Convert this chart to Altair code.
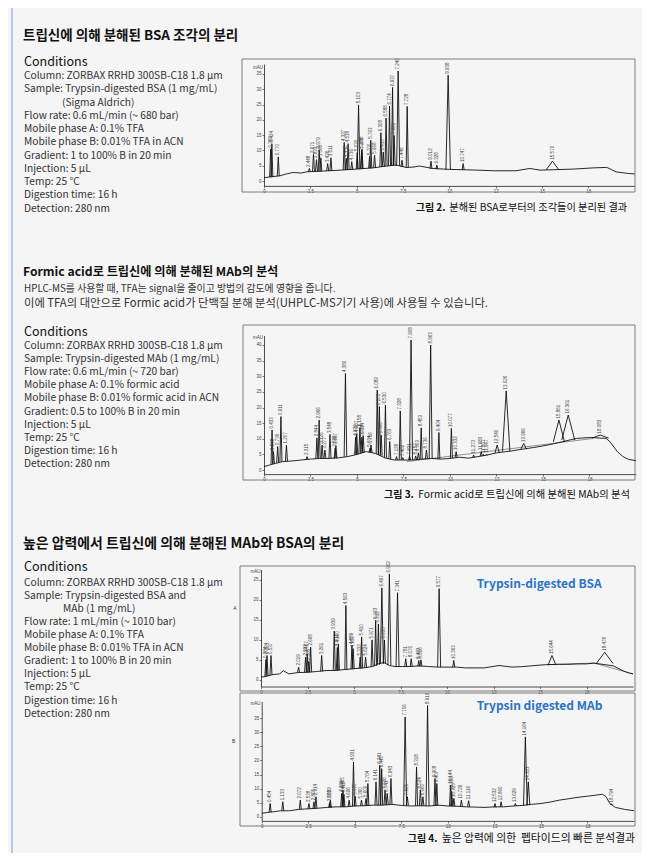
import altair as alt
import pandas as pd

FONT = "Noto Sans CJK KR"
W, H = 634, 845

# ---------------- text content ----------------
s1_title = "트립신에 의해 분해된 BSA 조각의 분리"
s1_cond = ["Column: ZORBAX RRHD 300SB-C18 1.8 μm",
           "Sample: Trypsin-digested BSA (1 mg/mL)",
           "(Sigma Aldrich)",
           "Flow rate: 0.6 mL/min (~ 680 bar)",
           "Mobile phase A: 0.1% TFA",
           "Mobile phase B: 0.01% TFA in ACN",
           "Gradient: 1 to 100% B in 20 min",
           "Injection: 5 μL",
           "Temp: 25 °C",
           "Digestion time: 16 h",
           "Detection: 280 nm"]
s1_indented = [2]
s2_title = "Formic acid로 트립신에 의해 분해된 MAb의 분석"
s2_body = ["HPLC-MS를 사용할 때, TFA는 signal을 줄이고 방법의 감도에 영향을 줍니다.",
           "이에 TFA의 대안으로 Formic acid가 단백질 분해 분석(UHPLC-MS기기 사용)에 사용될 수 있습니다."]
s2_cond = ["Column: ZORBAX RRHD 300SB-C18 1.8 μm",
           "Sample: Trypsin-digested MAb (1 mg/mL)",
           "Flow rate: 0.6 mL/min (~ 720 bar)",
           "Mobile phase A: 0.1% formic acid",
           "Mobile phase B: 0.01% formic acid in ACN",
           "Gradient: 0.5 to 100% B in 20 min",
           "Injection: 5 μL",
           "Temp: 25 °C",
           "Digestion time: 16 h",
           "Detection: 280 nm"]
s2_indented = []
s3_title = "높은 압력에서 트립신에 의해 분해된 MAb와 BSA의 분리"
s3_cond = ["Column: ZORBAX RRHD 300SB-C18 1.8 μm",
           "Sample: Trypsin-digested BSA and",
           "MAb (1 mg/mL)",
           "Flow rate: 1 mL/min (~ 1010 bar)",
           "Mobile phase A: 0.1% TFA",
           "Mobile phase B: 0.01% TFA in ACN",
           "Gradient: 1 to 100% B in 20 min",
           "Injection: 5 μL",
           "Temp: 25 °C",
           "Digestion time: 16 h",
           "Detection: 280 nm"]
s3_indented = [2]
cap2 = ["그림 2.", "분해된 BSA로부터의 조각들이 분리된 결과"]
cap3 = ["그림 3.", "Formic acid로 트립신에 의해 분해된 MAb의 분석"]
cap4 = ["그림 4.", "높은 압력에 의한\u00a0 펩타이드의 빠른 분석결과"]
legend_a = "Trypsin-digested BSA"
legend_b = "Trypsin digested MAb"

x_ticks = [0, 2.5, 5, 7.5, 10, 12.5, 15, 17.5]

# ---------------- Fig 2 ----------------
f2_bl_t = [0, 0.86, 1.2, 1.58, 2.0, 2.3, 3.2, 4.1, 5.0, 5.9, 6.6, 7.15, 7.7, 8.1, 8.4, 9.1, 10.0,
           11.3, 12.4, 13.6, 14.35, 14.9, 16.7, 17.8, 18.5, 19.0, 19.6, 20.0]
f2_bl_y = [1.1, 1.7, 2.3, 2.8, 2.6, 3.0, 3.25, 3.55, 3.9, 4.3, 4.9, 5.2, 4.4, 4.6, 4.9, 4.1, 3.8,
           3.6, 3.35, 3.35, 4.1, 3.55, 3.9, 4.3, 4.45, 3.0, 2.5, 2.3]
f2_pk_t = [0.360, 0.424, 0.770, 2.448, 2.671, 2.833, 2.979, 3.068, 3.436, 3.611, 4.327, 4.440,
           4.538, 4.736, 5.030, 5.103, 5.268, 5.288, 5.700, 5.763, 5.968, 6.308, 6.435, 6.588,
           6.774, 6.937, 7.021, 7.240, 7.448, 7.728, 9.012, 9.328, 9.938, 10.747, 15.570]
f2_pk_h = [10.5, 12.2, 7.9, 4.1, 8.7, 7.0, 10.1, 7.6, 5.7, 7.6, 12.6, 7.4, 12.2, 6.3, 9.3, 24.9,
           10.0, 10.4, 8.0, 13.3, 8.4, 15.8, 9.5, 20.6, 24.5, 30.6, 14.9, 36.0, 6.8, 24.4, 6.5,
           5.2, 34.6, 5.7, 6.5]
f2_pk_b = [1.3, 1.3, 1.6, 3.0, 3.1, 3.1, 3.1, 3.2, 3.3, 3.3, 3.6, 3.6, 3.6, 3.7, 3.9, 3.9, 4.0,
           4.0, 4.2, 4.2, 4.3, 4.6, 4.7, 4.8, 5.0, 5.1, 5.1, 5.0, 4.6, 4.4, 4.0, 3.9, 3.7, 3.6, 3.6]
f2_wide = {9.938: 0.12, 15.570: 0.35, 7.240: 0.08, 5.103: 0.07}

# ---------------- Fig 3 ----------------
f3_bl_t = [0, 0.3, 0.6, 1.0, 1.5, 2.0, 2.5, 3.0, 3.5, 4.0, 4.5, 5.0, 5.5, 6.0, 6.5, 7.0, 7.5, 8.0,
           8.5, 9.0, 9.5, 10.0, 10.5, 11.0, 11.5, 12.0, 12.5, 13.3, 13.6, 14.5, 15.0, 15.5, 16.8,
           17.2, 17.6, 18.4, 18.6, 19.0, 19.3, 19.6, 20.0]
f3_bl_y = [1.1, 1.6, 2.1, 2.7, 2.9, 3.2, 3.5, 3.7, 3.7, 3.9, 4.3, 5.0, 5.9, 5.3, 3.9, 3.2, 3.2, 3.2,
           3.5, 3.7, 3.5, 3.7, 4.1, 3.8, 4.3, 4.8, 5.5, 6.1, 6.4, 7.2, 7.7, 8.3, 10.1, 10.3, 10.4,
           10.1, 9.1, 5.9, 4.3, 3.4, 3.0]
f3_pk_t = [0.433, 0.508, 0.736, 0.911, 1.207, 2.315, 2.844, 2.966, 3.126, 3.277, 3.548, 3.829,
           3.867, 4.380, 4.927, 4.987, 5.158, 5.264, 5.334, 5.704, 5.756, 6.089, 6.205, 6.300,
           6.530, 6.763, 7.126, 7.328, 7.462, 7.831, 7.908, 8.157, 8.303, 8.453, 8.736, 8.963,
           9.404, 10.077, 10.332, 11.273, 11.683, 11.807, 11.967, 12.540, 13.026, 13.966, 15.861,
           16.361, 18.083]
f3_pk_h = [12.8, 5.9, 7.5, 17.1, 8.0, 4.3, 10.3, 16.0, 8.0, 6.4, 11.4, 7.0, 7.8, 30.9, 10.5, 11.7,
           13.5, 10.5, 11.0, 7.0, 8.0, 25.6, 20.3, 11.2, 20.8, 9.1, 4.3, 18.9, 4.0, 4.5, 41.6, 4.5,
           5.5, 13.5, 6.4, 40.0, 12.0, 13.3, 5.9, 4.8, 5.9, 5.0, 5.0, 8.0, 25.3, 8.5, 16.0, 17.6, 11.2]
f3_pk_b = [1.9, 2.0, 2.3, 2.6, 2.8, 3.3, 3.6, 3.6, 3.7, 3.7, 3.7, 3.8, 3.8, 4.2, 4.9, 5.0, 5.3,
           5.5, 5.6, 5.7, 5.6, 5.1, 4.8, 4.5, 3.9, 3.5, 3.2, 3.2, 3.2, 3.2, 3.2, 3.3, 3.4, 3.5,
           3.6, 3.7, 3.5, 3.8, 4.0, 4.0, 4.4, 4.5, 4.7, 5.4, 5.9, 6.7, 9.0, 9.6, 10.2]
f3_wide = {12.540: 0.12, 13.026: 0.2, 13.966: 0.15, 15.861: 0.3, 16.361: 0.35, 18.083: 0.45,
           7.908: 0.08, 8.963: 0.08, 4.380: 0.07}
f3_int_t = [7.67, 17.7]
f3_int_y = [2.7, 10.1]

# ---------------- Fig 4A ----------------
f4a_bl_t = [0, 0.3, 0.6, 1.0, 1.2, 1.5, 2.0, 2.5, 3.0, 3.5, 4.0, 4.5, 5.0, 5.5, 6.0, 6.3, 6.6, 6.9,
            7.2, 7.6, 8.0, 8.5, 9.0, 9.5, 10.0, 10.5, 11.0, 11.5, 12.0, 12.8, 13.5, 14.0, 14.5,
            15.0, 15.3, 16.0, 16.5, 17.0, 17.5, 17.9, 18.95, 19.2, 19.5, 19.8, 20.0]
f4a_bl_y = [0.6, 0.8, 1.2, 1.4, 2.2, 1.4, 1.75, 1.8, 2.0, 2.25, 2.25, 2.5, 2.7, 2.9, 3.25, 3.9,
            4.25, 3.5, 3.25, 3.25, 3.25, 3.4, 3.25, 3.1, 3.1, 3.1, 2.9, 2.9, 2.9, 3.5, 3.1, 3.2,
            3.4, 3.6, 3.7, 3.8, 3.8, 3.9, 3.9, 4.1, 3.4, 2.8, 2.1, 1.6, 1.4]
f4a_pk_t = [0.264, 0.324, 0.537, 2.019, 2.397, 2.487, 2.565, 2.668, 3.261, 3.939, 4.102, 4.160,
            4.563, 4.889, 4.957, 5.333, 5.410, 5.624, 5.971, 6.163, 6.312, 6.497, 6.635, 6.902,
            7.341, 7.781, 8.076, 8.483, 8.600, 9.577, 10.363, 15.644, 18.478]
f4a_pk_h = [5.0, 6.0, 6.0, 3.1, 5.6, 6.4, 4.5, 8.1, 6.0, 12.1, 8.0, 8.9, 18.5, 8.5, 7.7, 5.6, 10.6,
            5.6, 9.9, 14.75, 13.9, 22.9, 9.9, 26.4, 21.7, 5.2, 5.2, 4.75, 4.9, 22.7, 4.75, 6.0, 6.8]
f4a_pk_b = [0.8, 0.9, 1.1, 1.75, 1.8, 1.8, 1.8, 1.85, 2.0, 2.25, 2.3, 2.3, 2.4, 2.6, 2.6, 2.8, 2.8,
            2.9, 3.2, 3.4, 3.7, 3.9, 4.0, 3.6, 3.25, 3.25, 3.25, 3.3, 3.3, 3.1, 3.1, 3.7, 4.0]
f4a_wide = {15.644: 0.2, 18.478: 0.45, 9.577: 0.08, 6.902: 0.08, 6.497: 0.08, 7.341: 0.08}
f4a_int_t = [15.4, 17.9, 20.0]
f4a_int_y = [3.7, 4.1, 1.4]

# ---------------- Fig 4B ----------------
f4b_bl_t = [0, 0.3, 0.7, 1.0, 1.5, 2.0, 2.5, 3.0, 3.5, 4.0, 4.5, 5.0, 5.5, 6.0, 6.5, 7.0, 7.5, 8.0,
            8.5, 9.0, 9.5, 10.0, 10.5, 11.0, 11.5, 12.0, 12.5, 13.0, 13.5, 14.0, 14.5, 15.0, 15.5,
            16.0, 16.5, 17.0, 17.5, 18.0, 18.3, 18.5, 18.7, 19.0, 19.5, 20.0]
f4b_bl_y = [1.2, 1.5, 1.8, 2.1, 2.1, 2.6, 2.8, 3.0, 3.3, 3.5, 3.5, 3.8, 3.9, 4.1, 4.1, 4.4, 4.0, 3.8,
            3.9, 3.8, 4.1, 3.8, 3.7, 3.5, 3.4, 3.3, 3.5, 3.5, 3.8, 4.0, 4.4, 4.7, 5.2, 5.9, 6.4,
            6.9, 7.3, 7.7, 8.0, 7.1, 4.7, 3.3, 2.6, 2.1]
f4b_pk_t = [0.454, 1.133, 2.072, 2.538, 2.805, 2.914, 3.650, 3.689, 4.299, 4.365, 4.418, 4.696,
            4.931, 5.020, 5.360, 5.600, 5.704, 6.141, 6.341, 6.445, 6.626, 6.743, 6.943, 7.706,
            7.825, 8.318, 8.524, 8.660, 8.910, 9.308, 9.407, 10.144, 10.208, 10.325, 10.729,
            11.116, 12.532, 12.860, 13.629, 14.164, 14.323, 18.794]
f4b_pk_h = [4.7, 5.3, 5.9, 4.7, 5.3, 7.1, 5.0, 5.9, 8.3, 9.5, 8.0, 5.9, 19.5, 7.3, 5.9, 6.5, 11.8,
            12.4, 18.3, 17.1, 9.5, 8.3, 13.6, 35.5, 7.1, 17.7, 9.5, 7.1, 39.6, 13.6, 11.8, 11.2,
            9.0, 6.5, 5.9, 5.7, 4.7, 5.3, 4.7, 28.4, 12.4, 4.5]
f4b_pk_b = [1.6, 2.1, 2.6, 2.8, 2.9, 3.0, 3.3, 3.3, 3.5, 3.5, 3.5, 3.6, 3.7, 3.8, 3.8, 3.9, 3.9,
            4.1, 4.1, 4.1, 4.2, 4.3, 4.4, 4.0, 4.0, 3.9, 3.9, 3.9, 3.8, 3.8, 3.8, 3.8, 3.8, 3.7,
            3.6, 3.5, 3.3, 3.5, 3.8, 4.0, 4.1, 4.3]
f4b_wide = {14.164: 0.1, 14.323: 0.08, 7.706: 0.08, 8.910: 0.08}

# ---------------- helpers ----------------
one = pd.DataFrame({"k": [0]})
INK = "#111111"
BODY = "#333333"


def txt(text, x, y, size, weight="normal", color=BODY, align="left",
        baseline="alphabetic", font=FONT):
    return alt.Chart(one).mark_text(text=text, fontSize=size, fontWeight=weight, color=color,
                                    align=align, baseline=baseline, font=font).encode(
        x=alt.value(x), y=alt.value(y))


def block(lines, x, y0, lh, size, indented, indent):
    return [txt(s, x + (indent if i in indented else 0), y0 + i * lh, size)
            for i, s in enumerate(lines)]


def frame(x0, y0, x1, y1):
    return alt.Chart(one).mark_rect(filled=False, stroke="#7d7d7d", strokeWidth=1).encode(
        x=alt.value(x0), x2=alt.value(x1), y=alt.value(y0), y2=alt.value(y1))


def chromatogram(bl_t, bl_y, pk_t, pk_h, pk_b, wide, xr, yd, yr, yticks,
                 int_t=None, int_y=None):
    base = pd.DataFrame({"t": bl_t, "v": bl_y})
    rows = []
    for i, (t, h, b) in enumerate(zip(pk_t, pk_h, pk_b)):
        w = wide.get(t, 0.055)
        rows += [{"pk": i, "o": 0, "t": t - w, "v": b},
                 {"pk": i, "o": 1, "t": t, "v": h},
                 {"pk": i, "o": 2, "t": t + w, "v": b}]
    tents = pd.DataFrame(rows)
    labels = pd.DataFrame({"t": pk_t, "v": pk_h, "lbl": [f"{t:.3f}" for t in pk_t]})
    xs = alt.Scale(domain=[0, 20], range=xr, nice=False, zero=False)
    ys = alt.Scale(domain=yd, range=yr, nice=False, zero=False)
    ax_common = dict(grid=False, title=None, labelFontSize=4.5, labelFont="Liberation Sans",
                     labelColor="#444444", tickSize=2, tickWidth=0.6,
                     tickColor="#222222", domainColor="#222222", domainWidth=0.8,
                     labelOverlap=False, labelFlush=False)
    xa = alt.Axis(orient="bottom", offset=yr[0] - H, values=x_ticks, format="~g",
                  labelPadding=0.5, **ax_common)
    ya = alt.Axis(orient="left", offset=-xr[0], values=yticks, format="d", labelPadding=1,
                  **ax_common)
    X = alt.X("t:Q", scale=xs, axis=xa)
    Y = alt.Y("v:Q", scale=ys, axis=ya)
    layers = []
    if int_t:
        integ = pd.DataFrame({"t": int_t, "v": int_y})
        layers.append(alt.Chart(integ).mark_line(color="#777777", strokeWidth=0.8).encode(x=X, y=Y))
    layers.append(alt.Chart(base).mark_line(color=INK, strokeWidth=0.9).encode(x=X, y=Y))
    layers.append(alt.Chart(tents).mark_line(color=INK, strokeWidth=0.9).encode(
        x=X, y=Y, detail="pk:N", order="o:Q"))
    layers.append(alt.Chart(labels).mark_text(angle=270, align="left", baseline="middle", dx=1.5,
                                              fontSize=4.5, color="#444444",
                                              font="Liberation Sans").encode(x=X, y=Y, text="lbl:N"))
    return alt.layer(*layers)


# ---------------- assemble ----------------
parts = []
parts.append(alt.Chart(one).mark_rule(color="#9dbde3", strokeWidth=1.5).encode(
    x=alt.value(4), y=alt.value(0), y2=alt.value(H)))

# section 1
parts.append(txt(s1_title, 15, 31.8, 13.5, weight="bold", color=INK))
parts.append(txt("Conditions", 16, 57.5, 12.5, color=INK))
parts += block(s1_cond, 16, 71.2, 13.23, 10.2, s1_indented, 38)
parts.append(frame(234, 51, 627, 184))
parts.append(txt(cap2[0], 407.7, 203, 10, weight="bold", color=INK))
parts.append(txt(cap2[1], 441.3, 203, 10.2, color=INK))

# section 2
parts.append(txt(s2_title, 15, 267.5, 12.2, weight="bold", color=INK))
parts.append(txt(s2_body[0], 16, 284.4, 9.9))
parts.append(txt(s2_body[1], 16, 298.6, 11.3))
parts.append(txt("Conditions", 16, 327.5, 12.5, color=INK))
parts += block(s2_cond, 16, 340.6, 13.2, 10.2, s2_indented, 38)
parts.append(frame(235, 317, 627, 472))
parts.append(txt(cap3[0], 376, 490, 10, weight="bold", color=INK))
parts.append(txt(cap3[1], 410.3, 490, 10.3, color=INK))

# section 3
parts.append(txt(s3_title, 15, 540, 13.9, weight="bold", color=INK))
parts.append(txt("Conditions", 16, 563.2, 12.5, color=INK))
parts += block(s3_cond, 16, 577.6, 13.1, 10.2, s3_indented, 39)
parts.append(frame(232, 558, 627, 683))
parts.append(frame(232, 685, 627, 818))
parts.append(txt("A", 225.3, 599.7, 5, baseline="middle", font="Liberation Sans"))
parts.append(txt("B", 224, 733, 5, baseline="middle", font="Liberation Sans"))
parts.append(txt(legend_a, 468.7, 580.2, 12, weight="bold", color="#2a74c6"))
parts.append(txt(legend_b, 468.7, 701.9, 12, weight="bold", color="#2a74c6"))
parts.append(txt(cap4[0], 399.7, 834, 10, weight="bold", color=INK))
parts.append(txt(cap4[1], 433.7, 834, 10.8, color=INK))

# mAU labels
for (mx, my) in [(255, 59.7), (255, 330.3), (252.5, 564), (252.5, 696)]:
    parts.append(txt("mAU", mx, my, 4.5, align="right", baseline="middle", font="Liberation Sans",
                     color="#444444"))

# chromatograms
parts.append(chromatogram(f2_bl_t, f2_bl_y, f2_pk_t, f2_pk_h, f2_pk_b, f2_wide,
                          [256, 626.6], [-1.6, 38.2], [177.9, 56.2], list(range(0, 40, 5))))
parts.append(chromatogram(f3_bl_t, f3_bl_y, f3_pk_t, f3_pk_h, f3_pk_b, f3_wide,
                          [256, 627.9], [-1.3, 43], [466.1, 327.6], list(range(0, 45, 5)),
                          f3_int_t, f3_int_y))
parts.append(chromatogram(f4a_bl_t, f4a_bl_y, f4a_pk_t, f4a_pk_h, f4a_pk_b, f4a_wide,
                          [253, 625], [-1.75, 27.5], [678.5, 561.5], list(range(0, 30, 5)),
                          f4a_int_t, f4a_int_y))
parts.append(chromatogram(f4b_bl_t, f4b_bl_y, f4b_pk_t, f4b_pk_h, f4b_pk_b, f4b_wide,
                          [253.7, 626], [-1.5, 41], [812.9, 693.5], list(range(0, 40, 5))))

chart = alt.layer(*parts).resolve_scale(x="independent", y="independent").resolve_axis(
    x="independent", y="independent").properties(
    width=W, height=H, autosize=alt.AutoSizeParams(type="none"), padding=0,
    background="#f5f5f5").configure_view(strokeWidth=0)

chart.save("out.html", embed_options={"renderer": "svg", "actions": False})
